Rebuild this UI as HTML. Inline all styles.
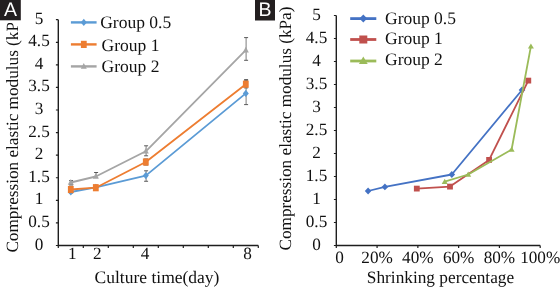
<!DOCTYPE html>
<html><head><meta charset="utf-8"><style>
html,body{margin:0;padding:0;background:#fff;width:560px;height:288px;overflow:hidden;position:relative;font-family:"Liberation Serif", serif;}
</style></head><body>
<svg width="560" height="288" viewBox="0 0 560 288" style="position:absolute;left:0;top:0;will-change:transform" text-rendering="geometricPrecision">
<g font-family='"Liberation Serif", serif' font-size="17.2" fill="#111">
<path d="M58.3,19.7V245.5H258.3" fill="none" stroke="#1e1e1e" stroke-width="1.4"/>
<path d="M55.9,245.50H58.3M55.9,222.92H58.3M55.9,200.34H58.3M55.9,177.76H58.3M55.9,155.18H58.3M55.9,132.60H58.3M55.9,110.02H58.3M55.9,87.44H58.3M55.9,64.86H58.3M55.9,42.28H58.3M55.9,19.70H58.3M58.30,245.5V247.9M83.30,245.5V247.9M108.30,245.5V247.9M133.30,245.5V247.9M158.30,245.5V247.9M183.30,245.5V247.9M208.30,245.5V247.9M233.30,245.5V247.9M258.30,245.5V247.9" stroke="#1e1e1e" stroke-width="1.2" fill="none"/>
<text x="39" y="249.50" text-anchor="middle">0</text>
<text x="39" y="226.92" text-anchor="middle">0.5</text>
<text x="39" y="204.34" text-anchor="middle">1</text>
<text x="39" y="181.76" text-anchor="middle">1.5</text>
<text x="39" y="159.18" text-anchor="middle">2</text>
<text x="39" y="136.60" text-anchor="middle">2.5</text>
<text x="39" y="114.02" text-anchor="middle">3</text>
<text x="39" y="91.44" text-anchor="middle">3.5</text>
<text x="39" y="68.86" text-anchor="middle">4</text>
<text x="39" y="46.28" text-anchor="middle">4.5</text>
<text x="39" y="23.70" text-anchor="middle">5</text>
<path d="M336.3,15.5V245.5H540.2" fill="none" stroke="#1e1e1e" stroke-width="1.4"/>
<path d="M333.90000000000003,245.50H336.3M333.90000000000003,222.50H336.3M333.90000000000003,199.50H336.3M333.90000000000003,176.50H336.3M333.90000000000003,153.50H336.3M333.90000000000003,130.50H336.3M333.90000000000003,107.50H336.3M333.90000000000003,84.50H336.3M333.90000000000003,61.50H336.3M333.90000000000003,38.50H336.3M333.90000000000003,15.50H336.3M336.30,245.5V247.9M377.08,245.5V247.9M417.86,245.5V247.9M458.64,245.5V247.9M499.42,245.5V247.9M540.20,245.5V247.9" stroke="#1e1e1e" stroke-width="1.2" fill="none"/>
<text x="316.5" y="250.10" text-anchor="middle">0</text>
<text x="316.5" y="227.10" text-anchor="middle">0.5</text>
<text x="316.5" y="204.10" text-anchor="middle">1</text>
<text x="316.5" y="181.10" text-anchor="middle">1.5</text>
<text x="316.5" y="158.10" text-anchor="middle">2</text>
<text x="316.5" y="135.10" text-anchor="middle">2.5</text>
<text x="316.5" y="112.10" text-anchor="middle">3</text>
<text x="316.5" y="89.10" text-anchor="middle">3.5</text>
<text x="316.5" y="66.10" text-anchor="middle">4</text>
<text x="316.5" y="43.10" text-anchor="middle">4.5</text>
<text x="316.5" y="20.10" text-anchor="middle">5</text>
<text x="72.30" y="259.2" text-anchor="middle">1</text>
<text x="97.30" y="259.2" text-anchor="middle">2</text>
<text x="145.10" y="259.2" text-anchor="middle">4</text>
<text x="247.50" y="259.2" text-anchor="middle">8</text>
<text x="339.60" y="262.6" text-anchor="middle">0</text>
<text x="377.08" y="262.6" text-anchor="middle">20%</text>
<text x="417.86" y="262.6" text-anchor="middle">40%</text>
<text x="458.64" y="262.6" text-anchor="middle">60%</text>
<text x="499.42" y="262.6" text-anchor="middle">80%</text>
<text x="540.20" y="262.6" text-anchor="middle">100%</text>
<text x="157" y="282.9" text-anchor="middle" font-size="17.5">Culture time(day)</text>
<text x="440.5" y="283.2" text-anchor="middle" font-size="17.3">Shrinking percentage</text>
<text transform="translate(18.4,252.6) rotate(-90)" x="0" y="0">Compression elastic modulus (kPa)</text>
<text transform="translate(291,250.5) rotate(-90)" x="0" y="0">Compression elastic modulus (kPa)</text>
</g>
<path d="M71.10,180.6V184.4" stroke="#5a5a5a" stroke-width="0.8" fill="none"/>
<path d="M69.10,180.6H73.10M69.10,184.4H73.10" stroke="#5a5a5a" stroke-width="1.0" fill="none"/>
<path d="M96.10,172.5V177.5" stroke="#5a5a5a" stroke-width="0.8" fill="none"/>
<path d="M94.10,172.5H98.10M94.10,177.5H98.10" stroke="#5a5a5a" stroke-width="1.0" fill="none"/>
<path d="M146.10,145.8V155.8" stroke="#5a5a5a" stroke-width="0.8" fill="none"/>
<path d="M144.10,145.8H148.10M144.10,155.8H148.10" stroke="#5a5a5a" stroke-width="1.0" fill="none"/>
<path d="M246.10,37.6V60.3" stroke="#5a5a5a" stroke-width="0.8" fill="none"/>
<path d="M244.10,37.6H248.10M244.10,60.3H248.10" stroke="#5a5a5a" stroke-width="1.0" fill="none"/>
<path d="M146.10,170.8V181.25" stroke="#5a5a5a" stroke-width="0.8" fill="none"/>
<path d="M144.10,170.8H148.10M144.10,181.25H148.10" stroke="#5a5a5a" stroke-width="1.0" fill="none"/>
<path d="M246.10,80.7V104.6" stroke="#5a5a5a" stroke-width="0.8" fill="none"/>
<path d="M244.10,80.7H248.10M244.10,104.6H248.10" stroke="#5a5a5a" stroke-width="1.0" fill="none"/>
<path d="M71.10,186V193" stroke="#5a5a5a" stroke-width="0.8" fill="none"/>
<path d="M69.10,186H73.10M69.10,193H73.10" stroke="#5a5a5a" stroke-width="1.0" fill="none"/>
<path d="M96.10,185.5V190" stroke="#5a5a5a" stroke-width="0.8" fill="none"/>
<path d="M94.10,185.5H98.10M94.10,190H98.10" stroke="#5a5a5a" stroke-width="1.0" fill="none"/>
<path d="M146.10,159V165" stroke="#5a5a5a" stroke-width="0.8" fill="none"/>
<path d="M144.10,159H148.10M144.10,165H148.10" stroke="#5a5a5a" stroke-width="1.0" fill="none"/>
<path d="M246.10,79.6V87.9" stroke="#5a5a5a" stroke-width="0.8" fill="none"/>
<path d="M244.10,79.6H248.10M244.10,87.9H248.10" stroke="#5a5a5a" stroke-width="1.0" fill="none"/>
<path d="M70.80,192.00L95.80,187.30L145.80,175.60L245.80,93.40" fill="none" stroke="#5b9bd5" stroke-width="1.8" stroke-linejoin="round"/>
<path d="M70.80,188.40L73.80,192.00L70.80,195.60L67.80,192.00Z" fill="#5b9bd5"/>
<path d="M95.80,183.70L98.80,187.30L95.80,190.90L92.80,187.30Z" fill="#5b9bd5"/>
<path d="M145.80,172.00L148.80,175.60L145.80,179.20L142.80,175.60Z" fill="#5b9bd5"/>
<path d="M245.80,89.80L248.80,93.40L245.80,97.00L242.80,93.40Z" fill="#5b9bd5"/>
<path d="M70.80,182.50L95.80,176.50L145.80,151.30L245.80,50.10" fill="none" stroke="#a5a5a5" stroke-width="1.8" stroke-linejoin="round"/>
<path d="M70.80,179.10L73.80,184.80L67.80,184.80Z" fill="#a5a5a5"/>
<path d="M95.80,173.10L98.80,178.80L92.80,178.80Z" fill="#a5a5a5"/>
<path d="M145.80,147.90L148.80,153.60L142.80,153.60Z" fill="#a5a5a5"/>
<path d="M245.80,46.70L248.80,52.40L242.80,52.40Z" fill="#a5a5a5"/>
<path d="M70.80,189.50L95.80,187.70L145.80,162.00L245.80,84.20" fill="none" stroke="#ed7d31" stroke-width="1.8" stroke-linejoin="round"/>
<rect x="67.90" y="185.90" width="5.80" height="7.20" fill="#ed7d31"/>
<rect x="92.90" y="184.10" width="5.80" height="7.20" fill="#ed7d31"/>
<rect x="142.90" y="158.40" width="5.80" height="7.20" fill="#ed7d31"/>
<rect x="242.90" y="80.60" width="5.80" height="7.20" fill="#ed7d31"/>
<path d="M70.9,22.4H96.6" stroke="#5b9bd5" stroke-width="2.4"/>
<path d="M83.80,18.80L86.80,22.40L83.80,26.00L80.80,22.40Z" fill="#5b9bd5"/>
<text x="100.2" y="28.10" font-family='"Liberation Serif", serif' font-size="17.5" fill="#111">Group 0.5</text>
<path d="M70.9,44.4H96.6" stroke="#ed7d31" stroke-width="2.4"/>
<rect x="80.90" y="40.80" width="5.80" height="7.20" fill="#ed7d31"/>
<text x="101.6" y="50.80" font-family='"Liberation Serif", serif' font-size="17.5" fill="#111">Group 1</text>
<path d="M70.9,66.4H96.6" stroke="#a5a5a5" stroke-width="2.4"/>
<path d="M83.80,63.00L86.80,68.70L80.80,68.70Z" fill="#a5a5a5"/>
<text x="101.6" y="72.30" font-family='"Liberation Serif", serif' font-size="17.5" fill="#111">Group 2</text>
<path d="M368.10,191.00L384.90,186.90L451.80,174.50L522.00,90.00" fill="none" stroke="#4472c4" stroke-width="1.8" stroke-linejoin="round"/>
<path d="M368.10,187.60L371.40,191.00L368.10,194.40L364.80,191.00Z" fill="#4472c4"/>
<path d="M384.90,183.50L388.20,186.90L384.90,190.30L381.60,186.90Z" fill="#4472c4"/>
<path d="M451.80,171.10L455.10,174.50L451.80,177.90L448.50,174.50Z" fill="#4472c4"/>
<path d="M522.00,86.60L525.30,90.00L522.00,93.40L518.70,90.00Z" fill="#4472c4"/>
<path d="M416.80,188.60L450.00,186.60L489.10,159.90L528.30,80.60" fill="none" stroke="#c0504d" stroke-width="1.8" stroke-linejoin="round"/>
<rect x="413.90" y="185.70" width="5.80" height="5.80" fill="#c0504d"/>
<rect x="447.10" y="183.70" width="5.80" height="5.80" fill="#c0504d"/>
<rect x="486.20" y="157.00" width="5.80" height="5.80" fill="#c0504d"/>
<rect x="525.40" y="77.70" width="5.80" height="5.80" fill="#c0504d"/>
<path d="M444.70,181.70L468.20,174.50L511.60,149.50L530.90,46.40" fill="none" stroke="#9bbb59" stroke-width="1.8" stroke-linejoin="round"/>
<path d="M444.70,178.70L447.70,183.90L441.70,183.90Z" fill="#9bbb59"/>
<path d="M468.20,171.50L471.20,176.70L465.20,176.70Z" fill="#9bbb59"/>
<path d="M511.60,146.50L514.60,151.70L508.60,151.70Z" fill="#9bbb59"/>
<path d="M530.90,43.40L533.90,48.60L527.90,48.60Z" fill="#9bbb59"/>
<path d="M350.2,18.6H376.3" stroke="#4472c4" stroke-width="2.8"/>
<path d="M363.30,14.60L367.20,18.60L363.30,22.60L359.40,18.60Z" fill="#4472c4"/>
<text x="385" y="24.1" font-family='"Liberation Serif", serif' font-size="17.5" fill="#111">Group 0.5</text>
<path d="M350.2,39.5H376.3" stroke="#c0504d" stroke-width="2.8"/>
<rect x="359.30" y="35.50" width="8.00" height="8.00" fill="#c0504d"/>
<text x="385" y="43.9" font-family='"Liberation Serif", serif' font-size="17.5" fill="#111">Group 1</text>
<path d="M350.2,61.0H376.3" stroke="#9bbb59" stroke-width="2.8"/>
<path d="M363.30,56.40L367.70,64.00L358.90,64.00Z" fill="#9bbb59"/>
<text x="385" y="65.2" font-family='"Liberation Serif", serif' font-size="17.5" fill="#111">Group 2</text>
<rect x="0" y="0" width="23" height="23" fill="#fff"/>
<rect x="0" y="0" width="20.8" height="20.3" fill="#231f20"/>
<text x="10.5" y="16.2" text-anchor="middle" font-family='"Liberation Sans", sans-serif' font-size="19.5" fill="#fff">A</text>
<rect x="255" y="0" width="20" height="20.5" fill="#231f20"/>
<text x="265" y="16.2" text-anchor="middle" font-family='"Liberation Sans", sans-serif' font-size="19.5" fill="#fff">B</text>
</svg>
</body></html>
